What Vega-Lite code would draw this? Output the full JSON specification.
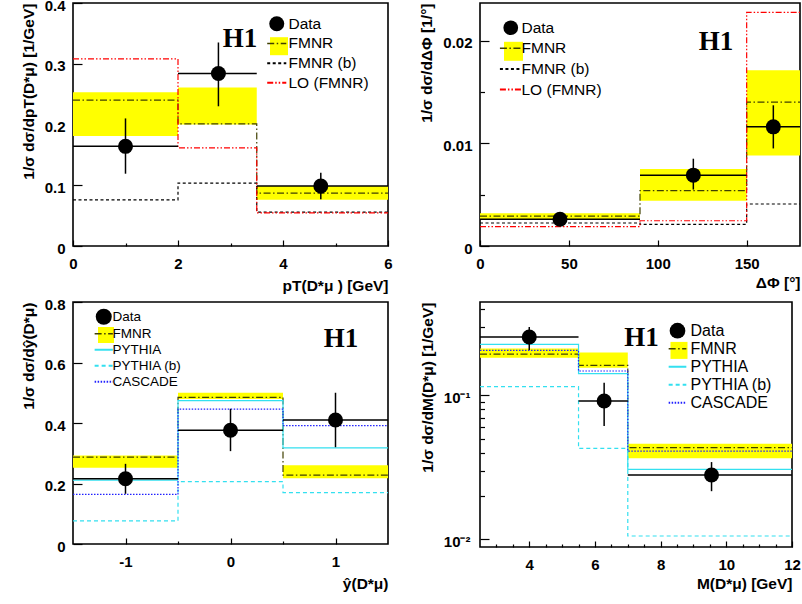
{
  "$schema": "https://vega.github.io/schema/vega-lite/v6.json",
  "padding": {"left": 20, "top": -3, "right": 0, "bottom": 0},
  "datasets": {
    "band1": [
      {"series": "FMNR", "x": 0, "x2": 2, "lo": 0.181, "hi": 0.253},
      {"series": "FMNR", "x": 2, "x2": 3.5, "lo": 0.2, "hi": 0.261},
      {"series": "FMNR", "x": 3.5, "x2": 6, "lo": 0.076, "hi": 0.0987}
    ],
    "steps1": [
      {"series": "FMNR", "x": 0, "y": 0.24}, {"series": "FMNR", "x": 2, "y": 0.201}, {"series": "FMNR", "x": 3.5, "y": 0.087}, {"series": "FMNR", "x": 6, "y": 0.087},
      {"series": "FMNR (b)", "x": 0, "y": 0.076}, {"series": "FMNR (b)", "x": 2, "y": 0.1036}, {"series": "FMNR (b)", "x": 3.5, "y": 0.0557}, {"series": "FMNR (b)", "x": 6, "y": 0.0557},
      {"series": "LO (FMNR)", "x": 0, "y": 0.308}, {"series": "LO (FMNR)", "x": 2, "y": 0.1615}, {"series": "LO (FMNR)", "x": 3.5, "y": 0.0545}, {"series": "LO (FMNR)", "x": 6, "y": 0.0545}
    ],
    "data1": [
      {"x": 1.0, "xlo": 0, "xhi": 2, "y": 0.164, "elo": 0.119, "ehi": 0.21},
      {"x": 2.77, "xlo": 2, "xhi": 3.5, "y": 0.284, "elo": 0.23, "ehi": 0.335},
      {"x": 4.72, "xlo": 3.5, "xhi": 6, "y": 0.0987, "elo": 0.077, "ehi": 0.1207}
    ],
    "band2": [
      {"series": "FMNR", "x": 0, "x2": 90, "lo": 0.0026, "hi": 0.0032},
      {"series": "FMNR", "x": 90, "x2": 150, "lo": 0.0044, "hi": 0.0075},
      {"series": "FMNR", "x": 150, "x2": 180, "lo": 0.0088, "hi": 0.0171}
    ],
    "steps2": [
      {"series": "FMNR", "x": 0, "y": 0.0029}, {"series": "FMNR", "x": 90, "y": 0.0054}, {"series": "FMNR", "x": 150, "y": 0.014}, {"series": "FMNR", "x": 180, "y": 0.014},
      {"series": "FMNR (b)", "x": 0, "y": 0.00224}, {"series": "FMNR (b)", "x": 90, "y": 0.00211}, {"series": "FMNR (b)", "x": 150, "y": 0.00409}, {"series": "FMNR (b)", "x": 180, "y": 0.00409},
      {"series": "LO (FMNR)", "x": 0, "y": 0.00188}, {"series": "LO (FMNR)", "x": 90, "y": 0.00246}, {"series": "LO (FMNR)", "x": 150, "y": 0.02275}, {"series": "LO (FMNR)", "x": 180, "y": 0.02275}
    ],
    "data2": [
      {"x": 45, "xlo": 0, "xhi": 90, "y": 0.0026, "elo": 0.0023, "ehi": 0.0029},
      {"x": 120, "xlo": 90, "xhi": 150, "y": 0.0069, "elo": 0.0055, "ehi": 0.0085},
      {"x": 165, "xlo": 150, "xhi": 180, "y": 0.0116, "elo": 0.0095, "ehi": 0.0137}
    ],
    "band3": [
      {"series": "FMNR", "x": -1.5, "x2": -0.5, "lo": 0.252, "hi": 0.2925},
      {"series": "FMNR", "x": -0.5, "x2": 0.5, "lo": 0.479, "hi": 0.5},
      {"series": "FMNR", "x": 0.5, "x2": 1.5, "lo": 0.217, "hi": 0.26}
    ],
    "steps3": [
      {"series": "FMNR", "x": -1.5, "y": 0.287}, {"series": "FMNR", "x": -0.5, "y": 0.485}, {"series": "FMNR", "x": 0.5, "y": 0.228}, {"series": "FMNR", "x": 1.5, "y": 0.228},
      {"series": "PYTHIA", "x": -1.5, "y": 0.211}, {"series": "PYTHIA", "x": -0.5, "y": 0.474}, {"series": "PYTHIA", "x": 0.5, "y": 0.318}, {"series": "PYTHIA", "x": 1.5, "y": 0.318},
      {"series": "PYTHIA (b)", "x": -1.5, "y": 0.0766}, {"series": "PYTHIA (b)", "x": -0.5, "y": 0.206}, {"series": "PYTHIA (b)", "x": 0.5, "y": 0.17}, {"series": "PYTHIA (b)", "x": 1.5, "y": 0.17},
      {"series": "CASCADE", "x": -1.5, "y": 0.164}, {"series": "CASCADE", "x": -0.5, "y": 0.446}, {"series": "CASCADE", "x": 0.5, "y": 0.391}, {"series": "CASCADE", "x": 1.5, "y": 0.391}
    ],
    "data3": [
      {"x": -1, "xlo": -1.5, "xhi": -0.5, "y": 0.2157, "elo": 0.166, "ehi": 0.265},
      {"x": 0, "xlo": -0.5, "xhi": 0.5, "y": 0.376, "elo": 0.307, "ehi": 0.447},
      {"x": 1, "xlo": 0.5, "xhi": 1.5, "y": 0.41, "elo": 0.32, "ehi": 0.5}
    ],
    "band4": [
      {"series": "FMNR", "x": 2.5, "x2": 5.5, "lo": 0.1823, "hi": 0.211},
      {"series": "FMNR", "x": 5.5, "x2": 7, "lo": 0.1555, "hi": 0.198},
      {"series": "FMNR", "x": 7, "x2": 12, "lo": 0.0365, "hi": 0.0461}
    ],
    "steps4": [
      {"series": "FMNR", "x": 2.5, "y": 0.193}, {"series": "FMNR", "x": 5.5, "y": 0.1615}, {"series": "FMNR", "x": 7, "y": 0.0433}, {"series": "FMNR", "x": 12, "y": 0.0433},
      {"series": "PYTHIA", "x": 2.5, "y": 0.226}, {"series": "PYTHIA", "x": 5.5, "y": 0.1413}, {"series": "PYTHIA", "x": 7, "y": 0.0306}, {"series": "PYTHIA", "x": 12, "y": 0.0306},
      {"series": "PYTHIA (b)", "x": 2.5, "y": 0.1148}, {"series": "PYTHIA (b)", "x": 5.5, "y": 0.0428}, {"series": "PYTHIA (b)", "x": 7, "y": 0.01055}, {"series": "PYTHIA (b)", "x": 12, "y": 0.01055},
      {"series": "CASCADE", "x": 2.5, "y": 0.205}, {"series": "CASCADE", "x": 5.5, "y": 0.1475}, {"series": "CASCADE", "x": 7, "y": 0.041}, {"series": "CASCADE", "x": 12, "y": 0.041}
    ],
    "data4": [
      {"x": 4.0, "xlo": 2.5, "xhi": 5.5, "y": 0.254, "elo": 0.2065, "ehi": 0.298},
      {"x": 6.28, "xlo": 5.5, "xhi": 7, "y": 0.0913, "elo": 0.0612, "ehi": 0.1224},
      {"x": 9.55, "xlo": 7, "xhi": 12, "y": 0.028, "elo": 0.0216, "ehi": 0.0344}
    ],
    "one": [{}]
  },
  "config": {
    "view": {"stroke": "black", "strokeWidth": 1.6},
    "axis": {
      "domain": false, "grid": false,
      "labelFont": "Liberation Sans", "labelFontWeight": "bold", "labelFontSize": 15, "labelColor": "black",
      "titleFont": "Liberation Sans", "titleFontWeight": "bold", "titleFontSize": 15.5, "titleColor": "black",
      "tickColor": "black", "tickWidth": 1.2, "labelFlush": false, "labelOverlap": false, "titleAnchor": "end"
    },
    "axisY": {"labelOffset": 2},
    "legend": {
      "orient": "none", "title": null, "labelFont": "Liberation Sans", "labelFontSize": 16,
      "labelColor": "black", "padding": 0, "labelOffset": 4, "rowPadding": 0
    }
  },
  "resolve": {"scale": {"color": "independent", "fill": "independent", "strokeDash": "independent"}, "legend": {"color": "independent", "fill": "independent", "strokeDash": "independent"}},
  "bounds": "flush",
  "columns": 2,
  "spacing": {"row": 56, "column": 92},
  "concat": [
        {
          "width": 315, "height": 243,
          "layer": [
            {
              "data": {"name": "band1"},
              "mark": {"type": "rect", "opacity": 1},
              "encoding": {
                "x": {"field": "x", "type": "quantitative", "scale": {"domain": [0, 6], "nice": false, "zero": false},
                  "axis": {"title": "pT(D*μ ) [GeV]", "values": [0, 0.5, 1, 1.5, 2, 2.5, 3, 3.5, 4, 4.5, 5, 5.5, 6],
                    "tickSize": {"condition": {"test": "datum.value % 2 === 0", "value": -6}, "value": -3},
                    "labelExpr": "datum.value % 2 === 0 ? format(datum.value, '~g') : ''", "labelPadding": 16, "titlePadding": 4}},
                "x2": {"field": "x2"},
                "y": {"field": "lo", "type": "quantitative", "scale": {"domain": [0, 0.4], "nice": false, "zero": false},
                  "axis": {"title": "1/σ dσ/dpT(D*μ) [1/GeV]", "values": [0, 0.05, 0.1, 0.15, 0.2, 0.25, 0.3, 0.35, 0.4],
                    "tickSize": {"condition": {"test": "abs(datum.value*10 - round(datum.value*10)) < 1e-6", "value": -9}, "value": -4.5},
                    "labelExpr": "abs(datum.value*10 - round(datum.value*10)) < 1e-6 ? format(datum.value, '~g') : ''", "labelPadding": 17, "titlePadding": 8}},
                "y2": {"field": "hi"},
                "fill": {"field": "series", "type": "nominal", "scale": {"domain": ["FMNR"], "range": ["#ffff00"]},
                  "legend": {"values": ["FMNR"], "labelExpr": "''", "legendX": 196, "legendY": 33.2, "symbolSize": 324, "labelFontSize": 15.5,
                    "encode": {"symbols": {"update": {"shape": {"value": "M-1.06,-0.67H1.06V0.67H-1.06Z"}, "fill": {"value": "#ffff00"}, "strokeWidth": {"value": 0}, "opacity": {"value": 1}}}}}}
              }
            },
            {
              "data": {"name": "steps1"},
              "mark": {"type": "line", "interpolate": "step-after", "strokeWidth": 1.2},
              "encoding": {
                "x": {"field": "x", "type": "quantitative"},
                "y": {"field": "y", "type": "quantitative"},
                "color": {"field": "series", "type": "nominal",
                  "scale": {"domain": ["Data", "FMNR", "FMNR (b)", "LO (FMNR)"], "range": ["black", "#404000", "black", "red"]},
                  "legend": {"legendX": 196, "legendY": 13, "symbolSize": 324, "labelFontSize": 15.5, "labelOffset": 4, "rowPadding": 2.7,
                    "encode": {"symbols": {"update": {
                      "shape": {"signal": "datum.value === 'Data' ? 'circle' : 'M-1.06,0H1.06'"},
                      "fill": {"signal": "datum.value === 'Data' ? 'black' : 'transparent'"},
                      "stroke": {"signal": "datum.value === 'FMNR (b)' ? 'black' : datum.value === 'LO (FMNR)' ? 'red' : datum.value === 'FMNR' ? '#404000' : 'transparent'"},
                      "strokeDash": {"signal": "datum.value === 'FMNR (b)' ? [3, 2.5] : datum.value === 'FMNR' ? [6, 2, 1.5, 2] : [6, 2, 1.5, 2, 1.5, 2]"},
                      "strokeWidth": {"signal": "datum.value === 'Data' ? 0 : datum.value === 'FMNR' ? 1.5 : 2"},
                      "size": {"signal": "datum.value === 'Data' ? 225 : 324"},
                      "opacity": {"value": 1}
                    }}}}},
                "strokeDash": {"field": "series", "type": "nominal",
                  "scale": {"domain": ["Data", "FMNR", "FMNR (b)", "LO (FMNR)"], "range": [[1, 0], [7, 2.5, 1.5, 2.5], [3, 2.5], [6, 2, 1.5, 2, 1.5, 2]]},
                  "legend": null}
              }
            },
            {
              "data": {"name": "data1"},
              "mark": {"type": "rule", "color": "black", "strokeWidth": 1.5},
              "encoding": {"x": {"field": "x", "type": "quantitative"}, "y": {"field": "elo", "type": "quantitative"}, "y2": {"field": "ehi"}}
            },
            {
              "data": {"name": "data1"},
              "mark": {"type": "rule", "color": "black", "strokeWidth": 1.5},
              "encoding": {"x": {"field": "xlo", "type": "quantitative"}, "x2": {"field": "xhi"}, "y": {"field": "y", "type": "quantitative"}}
            },
            {
              "data": {"name": "data1"},
              "mark": {"type": "point", "shape": "circle", "filled": true, "color": "black", "size": 225, "opacity": 1},
              "encoding": {"x": {"field": "x", "type": "quantitative"}, "y": {"field": "y", "type": "quantitative"}}
            },
            {
              "data": {"name": "one"},
              "mark": {"type": "text", "font": "Liberation Serif", "fontWeight": "bold", "fontSize": 27, "color": "black", "baseline": "middle", "align": "center"},
              "encoding": {"x": {"datum": 3.18}, "y": {"datum": 0.34}, "text": {"value": "H1"}}
            }
          ]
        },
        {
          "width": 320, "height": 243,
          "layer": [
            {
              "data": {"name": "band2"},
              "mark": {"type": "rect", "opacity": 1},
              "encoding": {
                "x": {"field": "x", "type": "quantitative", "scale": {"domain": [0, 180], "nice": false, "zero": false},
                  "axis": {"title": "ΔΦ [°]", "values": [0, 50, 100, 150],
                    "tickSize": -6,
                    "labelExpr": "format(datum.value, '~g')", "labelPadding": 16, "titlePadding": 4}},
                "x2": {"field": "x2"},
                "y": {"field": "lo", "type": "quantitative", "scale": {"domain": [0, 0.02366], "nice": false, "zero": false},
                  "axis": {"title": "1/σ dσ/dΔΦ [1/°]", "values": [0, 0.0025, 0.005, 0.0075, 0.01, 0.0125, 0.015, 0.0175, 0.02, 0.0225],
                    "tickSize": {"condition": {"test": "abs(datum.value*100 - round(datum.value*100)) < 1e-6", "value": -9}, "value": -4.5},
                    "labelExpr": "abs(datum.value*100 - round(datum.value*100)) < 1e-6 ? format(datum.value, '~g') : ''", "labelPadding": 17, "titlePadding": 8}},
                "y2": {"field": "hi"},
                "fill": {"field": "series", "type": "nominal", "scale": {"domain": ["FMNR"], "range": ["#ffff00"]},
                  "legend": {"values": ["FMNR"], "labelExpr": "''", "legendX": 23, "legendY": 37.8, "symbolSize": 361, "labelFontSize": 15.5,
                    "encode": {"symbols": {"update": {"shape": {"value": "M-1.14,-0.7H1.14V0.7H-1.14Z"}, "fill": {"value": "#ffff00"}, "strokeWidth": {"value": 0}, "opacity": {"value": 1}}}}}}
              }
            },
            {
              "data": {"name": "steps2"},
              "mark": {"type": "line", "interpolate": "step-after", "strokeWidth": 1.2},
              "encoding": {
                "x": {"field": "x", "type": "quantitative"},
                "y": {"field": "y", "type": "quantitative"},
                "color": {"field": "series", "type": "nominal",
                  "scale": {"domain": ["Data", "FMNR", "FMNR (b)", "LO (FMNR)"], "range": ["black", "#404000", "black", "red"]},
                  "legend": {"legendX": 23, "legendY": 17, "symbolSize": 361, "labelFontSize": 15.5, "labelOffset": 3, "rowPadding": 3.6,
                    "encode": {"symbols": {"update": {
                      "shape": {"signal": "datum.value === 'Data' ? 'circle' : 'M-1.14,0H1.14'"},
                      "fill": {"signal": "datum.value === 'Data' ? 'black' : 'transparent'"},
                      "stroke": {"signal": "datum.value === 'FMNR (b)' ? 'black' : datum.value === 'LO (FMNR)' ? 'red' : datum.value === 'FMNR' ? '#404000' : 'transparent'"},
                      "strokeDash": {"signal": "datum.value === 'FMNR (b)' ? [3, 2.5] : datum.value === 'FMNR' ? [6, 2, 1.5, 2] : [6, 2, 1.5, 2, 1.5, 2]"},
                      "strokeWidth": {"signal": "datum.value === 'Data' ? 0 : datum.value === 'FMNR' ? 1.5 : 2"},
                      "size": {"signal": "datum.value === 'Data' ? 216 : 361"},
                      "opacity": {"value": 1}
                    }}}}},
                "strokeDash": {"field": "series", "type": "nominal",
                  "scale": {"domain": ["Data", "FMNR", "FMNR (b)", "LO (FMNR)"], "range": [[1, 0], [7, 2.5, 1.5, 2.5], [3, 2.5], [6, 2, 1.5, 2, 1.5, 2]]},
                  "legend": null}
              }
            },
            {
              "data": {"name": "data2"},
              "mark": {"type": "rule", "color": "black", "strokeWidth": 1.5},
              "encoding": {"x": {"field": "x", "type": "quantitative"}, "y": {"field": "elo", "type": "quantitative"}, "y2": {"field": "ehi"}}
            },
            {
              "data": {"name": "data2"},
              "mark": {"type": "rule", "color": "black", "strokeWidth": 1.5},
              "encoding": {"x": {"field": "xlo", "type": "quantitative"}, "x2": {"field": "xhi"}, "y": {"field": "y", "type": "quantitative"}}
            },
            {
              "data": {"name": "data2"},
              "mark": {"type": "point", "shape": "circle", "filled": true, "color": "black", "size": 225, "opacity": 1},
              "encoding": {"x": {"field": "x", "type": "quantitative"}, "y": {"field": "y", "type": "quantitative"}}
            },
            {
              "data": {"name": "one"},
              "mark": {"type": "text", "font": "Liberation Serif", "fontWeight": "bold", "fontSize": 27, "color": "black", "baseline": "middle", "align": "center"},
              "encoding": {"x": {"datum": 132.7}, "y": {"datum": 0.0199}, "text": {"value": "H1"}}
            }
          ]
        },
        {
          "width": 315, "height": 242,
          "layer": [
            {
              "data": {"name": "band3"},
              "mark": {"type": "rect", "opacity": 1},
              "encoding": {
                "x": {"field": "x", "type": "quantitative", "scale": {"domain": [-1.5, 1.5], "nice": false, "zero": false},
                  "axis": {"title": "ŷ(D*μ)", "values": [-1, -0.5, 0, 0.5, 1],
                    "tickSize": {"condition": {"test": "datum.value % 1 === 0", "value": -6}, "value": -3},
                    "labelExpr": "datum.value % 1 === 0 ? (datum.value < 0 ? '-' + format(-datum.value, '~g') : format(datum.value, '~g')) : ''", "labelPadding": 16, "titlePadding": 4}},
                "x2": {"field": "x2"},
                "y": {"field": "lo", "type": "quantitative", "scale": {"domain": [0, 0.8], "nice": false, "zero": false},
                  "axis": {"title": "1/σ dσ/dŷ(D*μ)", "values": [0, 0.1, 0.2, 0.3, 0.4, 0.5, 0.6, 0.7, 0.8],
                    "tickSize": {"condition": {"test": "abs(datum.value*5 - round(datum.value*5)) < 1e-6", "value": -9}, "value": -4.5},
                    "labelExpr": "abs(datum.value*5 - round(datum.value*5)) < 1e-6 ? format(datum.value, '~g') : ''", "labelPadding": 17, "titlePadding": 8}},
                "y2": {"field": "hi"},
                "fill": {"field": "series", "type": "nominal", "scale": {"domain": ["FMNR"], "range": ["#ffff00"]},
                  "legend": {"values": ["FMNR"], "labelExpr": "''", "legendX": 24, "legendY": 24, "symbolSize": 256, "labelFontSize": 13.5,
                    "encode": {"symbols": {"update": {"shape": {"value": "M-1.14,-0.58H1.14V0.58H-1.14Z"}, "fill": {"value": "#ffff00"}, "strokeWidth": {"value": 0}, "opacity": {"value": 1}}}}}}
              }
            },
            {
              "data": {"name": "steps3"},
              "mark": {"type": "line", "interpolate": "step-after", "strokeWidth": 1.2},
              "encoding": {
                "x": {"field": "x", "type": "quantitative"},
                "y": {"field": "y", "type": "quantitative"},
                "color": {"field": "series", "type": "nominal",
                  "scale": {"domain": ["Data", "FMNR", "PYTHIA", "PYTHIA (b)", "CASCADE"], "range": ["black", "#404000", "#33e0f0", "#33e0f0", "#2020ff"]},
                  "legend": {"legendX": 24, "legendY": 8, "symbolSize": 256, "labelFontSize": 13.5, "labelOffset": 2, "rowPadding": 1,
                    "encode": {"symbols": {"update": {
                      "shape": {"signal": "datum.value === 'Data' ? 'circle' : 'M-1.14,0H1.14'"},
                      "fill": {"signal": "datum.value === 'Data' ? 'black' : 'transparent'"},
                      "stroke": {"signal": "datum.value === 'CASCADE' ? '#2020ff' : datum.value === 'PYTHIA' || datum.value === 'PYTHIA (b)' ? '#33e0f0' : datum.value === 'FMNR' ? '#404000' : 'transparent'"},
                      "strokeDash": {"signal": "datum.value === 'PYTHIA (b)' ? [4, 3] : datum.value === 'CASCADE' ? [1.5, 1.5] : datum.value === 'FMNR' ? [6, 2, 1.5, 2] : [1, 0]"},
                      "strokeWidth": {"signal": "datum.value === 'Data' ? 0 : datum.value === 'FMNR' ? 1.5 : 2"},
                      "size": {"value": 256},
                      "opacity": {"value": 1}
                    }}}}},
                "strokeDash": {"field": "series", "type": "nominal",
                  "scale": {"domain": ["Data", "FMNR", "PYTHIA", "PYTHIA (b)", "CASCADE"], "range": [[1, 0], [7, 2.5, 1.5, 2.5], [1, 0], [4, 3], [1.5, 1.5]]},
                  "legend": null}
              }
            },
            {
              "data": {"name": "data3"},
              "mark": {"type": "rule", "color": "black", "strokeWidth": 1.5},
              "encoding": {"x": {"field": "x", "type": "quantitative"}, "y": {"field": "elo", "type": "quantitative"}, "y2": {"field": "ehi"}}
            },
            {
              "data": {"name": "data3"},
              "mark": {"type": "rule", "color": "black", "strokeWidth": 1.5},
              "encoding": {"x": {"field": "xlo", "type": "quantitative"}, "x2": {"field": "xhi"}, "y": {"field": "y", "type": "quantitative"}}
            },
            {
              "data": {"name": "data3"},
              "mark": {"type": "point", "shape": "circle", "filled": true, "color": "black", "size": 225, "opacity": 1},
              "encoding": {"x": {"field": "x", "type": "quantitative"}, "y": {"field": "y", "type": "quantitative"}}
            },
            {
              "data": {"name": "one"},
              "mark": {"type": "text", "font": "Liberation Serif", "fontWeight": "bold", "fontSize": 27, "color": "black", "baseline": "middle", "align": "center"},
              "encoding": {"x": {"datum": 1.052}, "y": {"datum": 0.677}, "text": {"value": "H1"}}
            }
          ]
        },
        {
          "width": 312, "height": 245,
          "resolve": {"axis": {"x": "independent"}},
          "layer": [
            {
              "data": {"name": "band4"},
              "mark": {"type": "rect", "opacity": 1},
              "encoding": {
                "x": {"field": "x", "type": "quantitative", "scale": {"domain": [2.5, 12], "nice": false, "zero": false},
                  "axis": {"orient": "bottom", "title": "M(D*μ) [GeV]", "values": [4, 6, 8, 10, 12], "tickSize": -6, "labelPadding": 16, "titlePadding": 4}},
                "x2": {"field": "x2"},
                "y": {"field": "lo", "type": "quantitative", "scale": {"type": "log", "domain": [0.00885, 0.4446], "nice": false, "zero": false},
                  "axis": {"title": "1/σ dσ/dM(D*μ) [1/GeV]", "values": [0.01, 0.02, 0.03, 0.04, 0.05, 0.06, 0.07, 0.08, 0.09, 0.1, 0.2, 0.3, 0.4],
                    "tickSize": {"condition": {"test": "datum.value === 0.1 || datum.value === 0.01", "value": -9}, "value": -4.5},
                    "labelExpr": "datum.value === 0.1 ? '10⁻¹' : datum.value === 0.01 ? '10⁻²' : ''", "labelPadding": 19, "titlePadding": 8}},
                "y2": {"field": "hi"},
                "fill": {"field": "series", "type": "nominal", "scale": {"domain": ["FMNR"], "range": ["#ffff00"]},
                  "legend": {"values": ["FMNR"], "labelExpr": "''", "legendX": 189.5, "legendY": 38.9, "symbolSize": 289, "labelFontSize": 16,
                    "encode": {"symbols": {"update": {"shape": {"value": "M-1.04,-0.76H1.04V0.76H-1.04Z"}, "fill": {"value": "#ffff00"}, "strokeWidth": {"value": 0}, "opacity": {"value": 1}}}}}}
              }
            },
            {
              "data": {"name": "steps4"},
              "mark": {"type": "line", "interpolate": "step-after", "strokeWidth": 1.2},
              "encoding": {
                "x": {"field": "x", "type": "quantitative", "axis": null},
                "y": {"field": "y", "type": "quantitative"},
                "color": {"field": "series", "type": "nominal",
                  "scale": {"domain": ["Data", "FMNR", "PYTHIA", "PYTHIA (b)", "CASCADE"], "range": ["black", "#404000", "#33e0f0", "#33e0f0", "#2020ff"]},
                  "legend": {"legendX": 189.5, "legendY": 20.7, "symbolSize": 289, "labelFontSize": 16, "labelOffset": 5, "rowPadding": 2,
                    "encode": {"symbols": {"update": {
                      "shape": {"signal": "datum.value === 'Data' ? 'circle' : 'M-1.04,0H1.04'"},
                      "fill": {"signal": "datum.value === 'Data' ? 'black' : 'transparent'"},
                      "stroke": {"signal": "datum.value === 'CASCADE' ? '#2020ff' : datum.value === 'PYTHIA' || datum.value === 'PYTHIA (b)' ? '#33e0f0' : datum.value === 'FMNR' ? '#404000' : 'transparent'"},
                      "strokeDash": {"signal": "datum.value === 'PYTHIA (b)' ? [4, 3] : datum.value === 'CASCADE' ? [1.5, 1.5] : datum.value === 'FMNR' ? [6, 2, 1.5, 2] : [1, 0]"},
                      "strokeWidth": {"signal": "datum.value === 'Data' ? 0 : datum.value === 'FMNR' ? 1.5 : 2"},
                      "size": {"signal": "datum.value === 'Data' ? 246 : 289"},
                      "opacity": {"value": 1}
                    }}}}},
                "strokeDash": {"field": "series", "type": "nominal",
                  "scale": {"domain": ["Data", "FMNR", "PYTHIA", "PYTHIA (b)", "CASCADE"], "range": [[1, 0], [7, 2.5, 1.5, 2.5], [1, 0], [4, 3], [1.5, 1.5]]},
                  "legend": null}
              }
            },
            {
              "data": {"name": "data4"},
              "mark": {"type": "rule", "color": "black", "strokeWidth": 1.5},
              "encoding": {"x": {"field": "x", "type": "quantitative", "axis": null}, "y": {"field": "elo", "type": "quantitative"}, "y2": {"field": "ehi"}}
            },
            {
              "data": {"name": "data4"},
              "mark": {"type": "rule", "color": "black", "strokeWidth": 1.5},
              "encoding": {"x": {"field": "xlo", "type": "quantitative", "axis": null}, "x2": {"field": "xhi"}, "y": {"field": "y", "type": "quantitative"}}
            },
            {
              "data": {"name": "data4"},
              "mark": {"type": "point", "shape": "circle", "filled": true, "color": "black", "size": 225, "opacity": 1},
              "encoding": {
                "x": {"field": "x", "type": "quantitative",
                  "axis": {"orient": "bottom", "title": null, "labels": false, "values": [3, 3.5, 4.5, 5, 5.5, 6.5, 7, 7.5, 8.5, 9, 9.5, 10.5, 11, 11.5], "tickSize": -3}},
                "y": {"field": "y", "type": "quantitative"}}
            },
            {
              "data": {"name": "one"},
              "mark": {"type": "text", "font": "Liberation Serif", "fontWeight": "bold", "fontSize": 27, "color": "black", "baseline": "middle", "align": "center"},
              "encoding": {"x": {"datum": 7.42, "axis": null}, "y": {"datum": 0.25}, "text": {"value": "H1"}}
            }
          ]
        }
  ]
}
